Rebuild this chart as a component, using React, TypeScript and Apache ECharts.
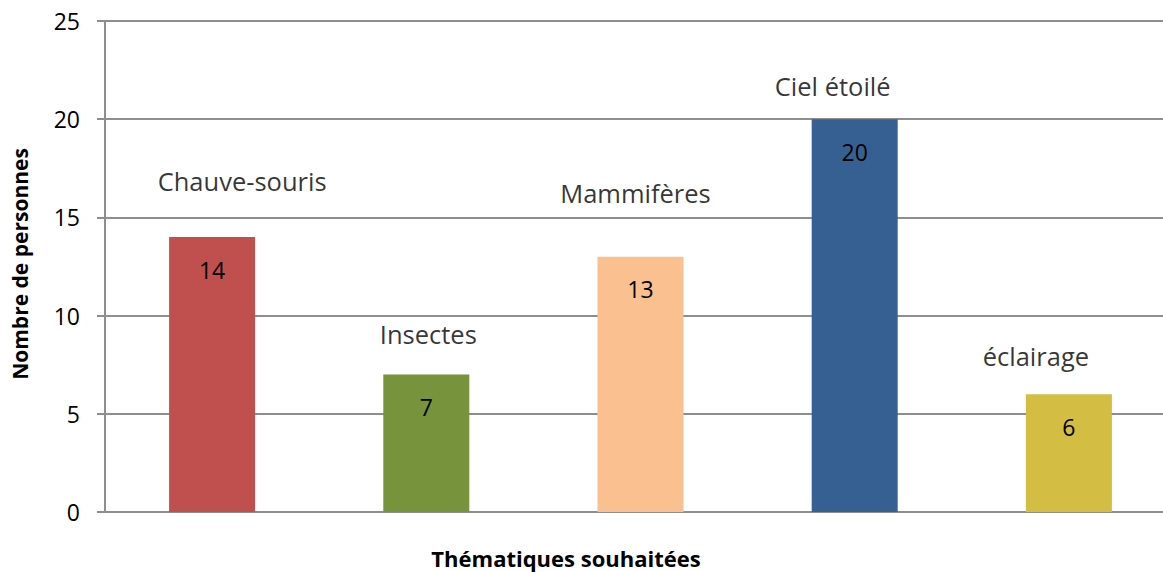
import React, { useEffect, useRef } from "react";
import * as echarts from "echarts";

const categories = ["Chauve-souris", "Insectes", "Mammifères", "Ciel étoilé", "éclairage"];
const values = [14, 7, 13, 20, 6];
const barColors = ["#C0504D", "#77933C", "#FAC090", "#376092", "#D3BE43"];
// heights (in axis units) where the category name labels sit above the bars
const nameLabelHeights = [16.86, 9.07, 16.25, 21.69, 7.96];
const nameLabelShiftX = [30, 2, -5, -22, -33];
const yTicks = [0, 5, 10, 15, 20, 25];

const FONT = "'Open Sans', 'Noto Sans', sans-serif";

export default function App() {
  const ref = useRef<HTMLDivElement>(null);
  useEffect(() => {
    if (!ref.current) return;
    const chart = echarts.init(ref.current, undefined, { renderer: "svg" });
    chart.setOption({
      animation: false,
      backgroundColor: "#ffffff",
      grid: {
        left: 105,
        width: 1071,
        top: 21,
        bottom: 60,
        containLabel: false,
        outerBoundsMode: "none",
      },
      xAxis: {
        type: "category",
        data: categories,
        axisLine: { show: true, lineStyle: { color: "#8E8E8E", width: 2 } },
        axisTick: { show: false },
        axisLabel: { show: false },
        splitLine: { show: false },
      },
      yAxis: {
        type: "value",
        min: yTicks[0],
        max: yTicks[yTicks.length - 1],
        interval: 5,
        axisLine: { show: true, lineStyle: { color: "#8E8E8E", width: 2 } },
        axisTick: { show: true, inside: false, length: 8, lineStyle: { color: "#8E8E8E", width: 2 } },
        axisLabel: { color: "#000", fontFamily: FONT, fontSize: 23, margin: 25 },
        splitLine: { show: true, lineStyle: { color: "#8E8E8E", width: 2 } },
      },
      series: [
        {
          type: "bar",
          barWidth: 86,
          data: values.map((v, i) => ({ value: v, itemStyle: { color: barColors[i] } })),
          label: {
            show: true,
            position: "insideTop",
            distance: 21,
            color: "#000",
            fontFamily: FONT,
            fontSize: 23,
          },
          z: 3,
        },
        {
          type: "scatter",
          symbolSize: 0,
          data: nameLabelHeights.map((h, i) => ({
            value: [i, h],
            label: { offset: [nameLabelShiftX[i], 0] },
          })),
          label: {
            show: true,
            position: "inside",
            formatter: (p: any) => categories[p.dataIndex],
            color: "#000",
            fontFamily: FONT,
            fontSize: 25.5,
          },
          z: 4,
        },
      ],
      graphic: [
        {
          type: "text",
          x: 566,
          y: 558,
          style: {
            text: "Thématiques souhaitées",
            font: `bold 22px ${FONT}`,
            fill: "#000",
            align: "center",
            verticalAlign: "middle",
          },
        },
        {
          type: "text",
          x: 20,
          y: 264,
          rotation: Math.PI / 2,
          style: {
            text: "Nombre de personnes",
            font: `bold 21px ${FONT}`,
            fill: "#000",
            align: "center",
            verticalAlign: "middle",
          },
        },
      ],
    });
    return () => chart.dispose();
  }, []);
  return (
    <div
      ref={ref}
      style={{ position: "fixed", left: 0, top: 0, width: 1163, height: 572 }}
    />
  );
}
